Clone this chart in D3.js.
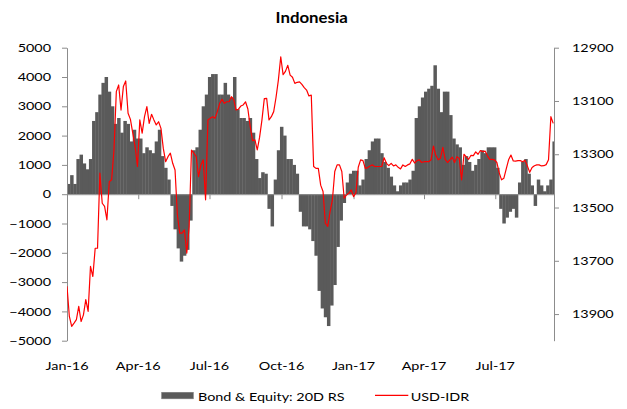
<!DOCTYPE html>
<html><head><meta charset="utf-8">
<script src="https://cdn.jsdelivr.net/npm/d3@7"></script>
<style>
body{margin:0;background:#fff}
svg{display:block}
text{font-family:Lato,"Open Sans",sans-serif;fill:#000}
</style>
</head><body>
<svg id="chart" width="627" height="409"></svg>
<script>
// ---------------- data ----------------
const chartTitle = "Indonesia";
const startDate = "2016-01-01";
const endDate = "2017-09-14";
const barStepDays = 4;   // bond & equity 20D rolling sum sampled every 4 days
const lineStepDays = 3;  // USD-IDR sampled every 3 days
const seriesNames = ["Bond & Equity: 20D RS", "USD-IDR"];

const flowValues = [
  350, 650, 350, 1200, 1350, 1050, 850, 1200, 2500, 2800,
  3400, 3800, 4000, 3500, 3000, 2400, 2600, 2100, 2500, 2400,
  1800, 2200, 1900, 1900, 1400, 1600, 1500, 1400, 1800, 2200,
  1300, 900, 500, -400, -1200, -1850, -2300, -2100, -1900, -900,
  1500, 1600, 2200, 3000, 3400, 4000, 4100, 4100, 3400, 3400,
  3800, 3400, 3300, 4000, 2900, 2600, 2600, 2500, 2600, 2100,
  1200, 550, 750, 700, -500, -1100, 500, 1500, 2300, 2000,
  1200, 1200, 1000, 700, -600, -1100, -1100, -1200, -1600, -2100,
  -3300, -3900, -4200, -4500, -3800, -3100, -1800, -900, -300, 400,
  700, 800, 800, 300, 500, 1200, 1500, 1800, 1900, 1900,
  1400, 1100, 900, 600, 300, 100, 300, 400, 400, 500,
  800, 2600, 3000, 3300, 3500, 3600, 3700, 4400, 3600, 2800,
  3500, 3500, 2700, 1900, 1700, 1600, 1000, 1300, 1100, 800,
  1000, 1200, 1500, 1400, 1600, 1600, 1600, 900, -500, -1000,
  -800, -600, -500, -800, 400, 1100, 1200, 700, 300, -400,
  500, 300, 100, 300, 500, 1800
];

const idrValues = [
  13796, 13909, 13946, 13934, 13921, 13871, 13928, 13903, 13846, 13890,
  13721, 13759, 13653, 13653, 13371, 13484, 13496, 13546, 13403, 13396,
  13284, 13065, 13040, 13134, 13046, 13025, 13146, 13169, 13221, 13271,
  13346, 13171, 13221, 13159, 13121, 13184, 13150, 13171, 13190, 13178,
  13203, 13278, 13328, 13309, 13296, 13334, 13359, 13528, 13596, 13596,
  13584, 13671, 13571, 13284, 13296, 13309, 13384, 13340, 13321, 13471,
  13171, 13165, 13159, 13165, 13140, 13109, 13094, 13109, 13103, 13103,
  13084, 13096, 13134, 13131, 13119, 13115, 13103, 13130, 13196, 13249,
  13246, 13284, 13236, 13171, 13091, 13090, 13171, 13159, 13140, 13086,
  13021, 12934, 13001, 12989, 12966, 13003, 13011, 13034, 13030, 13028,
  13038, 13050, 13059, 13081, 13078, 13346, 13353, 13353, 13416, 13440,
  13559, 13571, 13515, 13471, 13365, 13340, 13340, 13365, 13465, 13453,
  13446, 13434, 13459, 13444, 13349, 13321, 13324, 13353, 13350, 13344,
  13340, 13346, 13346, 13346, 13346, 13313, 13334, 13343, 13334, 13344,
  13340, 13349, 13355, 13340, 13346, 13340, 13336, 13319, 13333, 13324,
  13321, 13331, 13328, 13328, 13328, 13321, 13269, 13304, 13321, 13315,
  13274, 13319, 13331, 13321, 13311, 13331, 13309, 13316, 13396, 13300,
  13310, 13319, 13304, 13305, 13291, 13300, 13286, 13290, 13288, 13306,
  13319, 13319, 13321, 13331, 13369, 13396, 13390, 13355, 13321, 13303,
  13325, 13326, 13324, 13324, 13328, 13323, 13344, 13368, 13350, 13343,
  13340, 13340, 13344, 13343, 13339, 13321, 13159, 13184
];

const leftTicks = [-5000, -4000, -3000, -2000, -1000, 0, 1000, 2000, 3000, 4000, 5000];
const leftDomain = [-5000, 5000];
const rightTicks = [12900, 13100, 13300, 13500, 13700, 13900];
const rightDomain = [12900, 14000];

// ---------------- layout ----------------
const L = 67, R = 554, T = 47.7, B = 340.7;
const svg = d3.select("#chart");
const t0 = d3.utcParse("%Y-%m-%d")(startDate);
const t1 = d3.utcParse("%Y-%m-%d")(endDate);

const x = d3.scaleUtc().domain([t0, t1]).range([L, R]);
const yL = d3.scaleLinear().domain(leftDomain).range([B, T]);
const yR = d3.scaleLinear().domain(rightDomain).range([T, B]);

const axisColor = "#8c8c8c";

function stretch(sel, factor) {
  sel.each(function () {
    const w = this.getComputedTextLength();
    d3.select(this).attr("textLength", w * factor).attr("lengthAdjust", "spacingAndGlyphs");
  });
}

svg.append("clipPath").attr("id", "plot").append("rect")
  .attr("x", L).attr("y", T - 2).attr("width", R - L).attr("height", B - T + 4);

// bars
const barData = flowValues.map((v, i) => ({
  d0: d3.utcDay.offset(t0, i * barStepDays),
  d1: d3.utcDay.offset(t0, (i + 1) * barStepDays),
  v
}));
svg.append("g").attr("clip-path", "url(#plot)")
  .selectAll("rect").data(barData).join("rect")
  .attr("x", d => x(d.d0))
  .attr("width", d => x(d.d1) - x(d.d0) + 0.35)
  .attr("y", d => Math.min(yL(d.v), yL(0)))
  .attr("height", d => Math.abs(yL(d.v) - yL(0)))
  .attr("fill", "#5a5a5a");

// axes
const gL = svg.append("g").attr("transform", `translate(${L},0)`)
  .call(d3.axisLeft(yL).tickValues(leftTicks).tickSize(5).tickSizeOuter(0).tickPadding(11).tickFormat(d3.format("d")));
const gR = svg.append("g").attr("transform", `translate(${R},0)`)
  .call(d3.axisRight(yR).tickValues(rightTicks).tickSize(5).tickSizeOuter(0).tickPadding(13).tickFormat(d3.format("d")));
const xTicks = x.ticks(d3.utcMonth.every(3));
const gX = svg.append("g").attr("transform", `translate(0,${yL(0)})`)
  .call(d3.axisBottom(x).tickValues(xTicks.concat([t1])).tickSize(5).tickSizeOuter(0).tickFormat(""));

[gL, gR, gX].forEach(g => {
  g.select(".domain").attr("stroke", axisColor);
  g.selectAll(".tick line").attr("stroke", axisColor);
  g.selectAll("text").attr("font-family", "Lato").attr("font-size", 11.5).attr("fill", "#000");
});
stretch(gL.selectAll("text"), 1.25);
stretch(gR.selectAll("text"), 1.25);

// x labels at bottom
const fmt = d3.utcFormat("%b-%y");
const xl = svg.append("g").selectAll("text").data(xTicks).join("text")
  .attr("x", d => x(d)).attr("y", 369.5)
  .attr("text-anchor", "middle").attr("font-size", 11.5)
  .text(d => fmt(d));
stretch(xl, 1.25);

// line
const lineData = idrValues.map((v, i) => ({ d: d3.utcDay.offset(t0, i * lineStepDays), v }));
svg.append("path").datum(lineData)
  .attr("clip-path", "url(#plot)")
  .attr("fill", "none").attr("stroke", "#ff0000").attr("stroke-width", 1.2)
  .attr("stroke-linejoin", "round")
  .attr("d", d3.line().x(d => x(d.d)).y(d => yR(d.v)));

// title
const tt = svg.append("text").attr("x", 311.7).attr("y", 22.7)
  .attr("text-anchor", "middle").attr("font-weight", "bold").attr("font-size", 15)
  .text(chartTitle);
stretch(tt, 1.12);

// legend
svg.append("rect").attr("x", 161.7).attr("y", 392.3).attr("width", 31.6).attr("height", 6.5)
  .attr("fill", "#5a5a5a").attr("stroke", "#7a7a7a").attr("stroke-width", 0.6);
const lt1 = svg.append("text").attr("x", 198).attr("y", 400.5).attr("font-size", 11.5).text(seriesNames[0]);
stretch(lt1, 1.25);
svg.append("line").attr("x1", 375).attr("x2", 408.3).attr("y1", 395.3).attr("y2", 395.3)
  .attr("stroke", "#ff0000").attr("stroke-width", 1.2);
const lt2 = svg.append("text").attr("x", 410.7).attr("y", 400.5).attr("font-size", 11.5).text(seriesNames[1]);
stretch(lt2, 1.25);
</script>
</body></html>
